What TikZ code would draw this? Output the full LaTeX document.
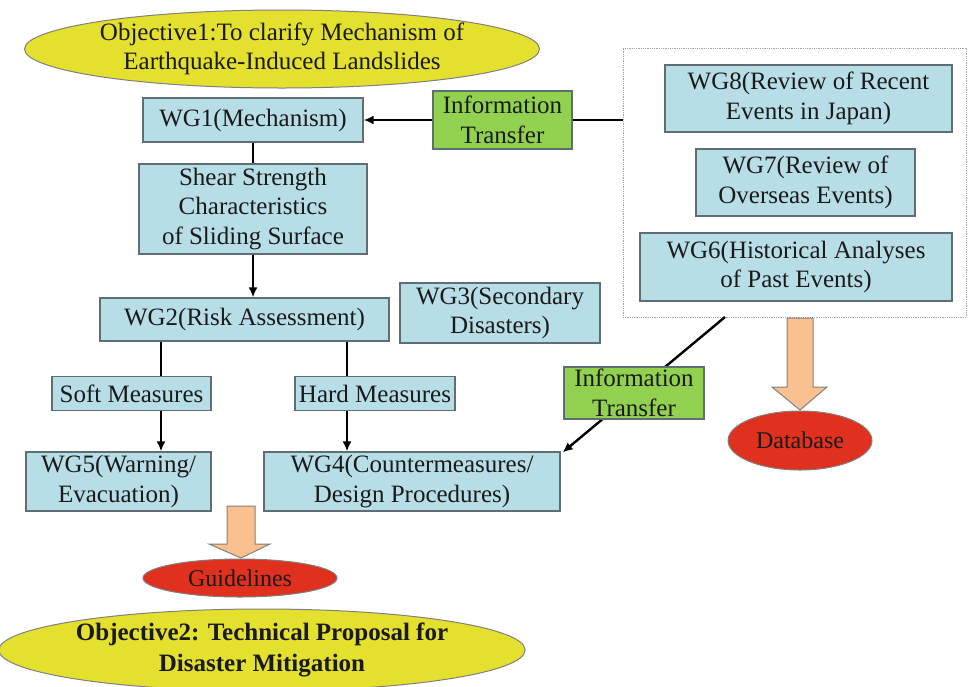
\documentclass[tikz,border=0pt]{standalone}
\usepackage{fontspec}
\setmainfont{Liberation Serif}
\usetikzlibrary{shapes.geometric,arrows.meta}
\definecolor{wgblue}{HTML}{B7DDE6}
\definecolor{wgedge}{HTML}{5E6E72}
\definecolor{itgreen}{HTML}{92D050}
\definecolor{objyellow}{HTML}{E4E02E}
\definecolor{redfill}{HTML}{E0301E}
\definecolor{peach}{HTML}{FAC090}
\definecolor{txt}{HTML}{1A1A1A}
\begin{document}
\begin{tikzpicture}[x=1pt,y=-1pt,
  base/.style={align=center,inner sep=0pt,text=txt,font=\fontsize{25}{29.5}\selectfont},
  wg/.style={base,draw=wgedge,fill=wgblue,line width=1.2pt},
  info/.style={base,draw=wgedge,fill=itgreen,line width=1.2pt},
  obj/.style={base,ellipse,draw=gray,fill=objyellow,line width=1pt},
  result/.style={base,ellipse,draw=gray,fill=redfill,line width=1pt},
  conn/.style={line width=2.4pt,black},
  arr/.style={conn,-{Latex[length=10pt,width=9pt]}},
  blockarr/.style={draw=gray,fill=peach,line width=1pt}
]
\useasboundingbox (0,0) rectangle (968,686);

% objectives
\node[obj,minimum width=515,minimum height=78] (obj1) at (282,49)
  {Objective1:To clarify Mechanism of\\Earthquake-Induced Landslides};

% source box (dotted)
\node[draw=gray!70,densely dotted,line width=0.8pt,fill=white,minimum width=343,minimum height=269] (src) at (794.5,182.5) {};
\node[wg,minimum width=287,minimum height=67] (wg8) at (808.5,98.5) {WG8(Review of Recent\\Events in Japan)};
\node[wg,minimum width=219,minimum height=67] (wg7) at (805.5,182.5) {WG7(Review of\\Overseas Events)};
\node[wg,minimum width=312,minimum height=68] (wg6) at (796,267) {WG6(Historical Analyses\\of Past Events)};

% main column
\node[wg,minimum width=220,minimum height=44] (wg1) at (253,120) {WG1(Mechanism)};
\node[info,minimum width=139,minimum height=58] (it1) at (502.5,120) {Information\\Transfer};
\node[wg,minimum width=228,minimum height=90] (shear) at (253,209) {Shear Strength\\Characteristics\\of Sliding Surface};
\node[wg,minimum width=289,minimum height=43] (wg2) at (244.5,319.5) {WG2(Risk Assessment)};
\node[wg,minimum width=200,minimum height=60] (wg3) at (500,313) {WG3(Secondary\\Disasters)};
\node[wg,minimum width=159,minimum height=34] (soft) at (131.5,393.5) {Soft Measures};
\node[wg,minimum width=160,minimum height=34] (hard) at (375,393.5) {Hard Measures};
\node[wg,minimum width=185,minimum height=59] (wg5) at (118.5,481.5) {WG5(Warning/\\Evacuation)};
\node[wg,minimum width=296,minimum height=59] (wg4) at (412,481.5) {WG4(Countermeasures/\\Design Procedures)};

% connectors
\coordinate (xs) at (161,0);
\coordinate (xh) at (347,0);
\draw[arr] (it1.west) -- (wg1.east);
\draw[conn] (it1.east) -- (src.west |- it1.east);
\draw[conn] (wg1.south) -- (shear.north);
\draw[arr] (shear.south) -- (wg2.north -| shear.south);
\draw[conn] (wg2.south -| xs) -- (soft.north -| xs);
\draw[arr] (soft.south -| xs) -- (wg5.north -| xs);
\draw[conn] (wg2.south -| xh) -- (hard.north -| xh);
\draw[arr] (hard.south -| xh) -- (wg4.north -| xh);
\coordinate (s2) at (725,317);
\draw[arr] (s2) -- ([xshift=2pt,yshift=-1pt]wg4.north east);
\node[info,minimum width=140,minimum height=52] (it2) at (634,393) {Information\\Transfer};

% block arrows and results
\draw[blockarr] (787,318) -- (813,318) -- (813,387) -- (827,387) -- (800,410) -- (772,387) -- (787,387) -- cycle;
\node[result,minimum width=144,minimum height=59,font=\fontsize{24}{28}\selectfont] (db) at (800,440.5) {Database};
\draw[blockarr] (227,506) -- (255,506) -- (255,544) -- (270,544) -- (241,558) -- (209,544) -- (227,544) -- cycle;
\node[result,minimum width=194,minimum height=38,font=\fontsize{24}{28}\selectfont] (gl) at (240,578) {Guidelines};
\node[obj,minimum width=504,minimum height=82,font=\bfseries\fontsize{25}{31}\selectfont] (obj2) at (262,650)
  {Objective2: Technical Proposal for\\Disaster Mitigation};
\end{tikzpicture}
\end{document}
